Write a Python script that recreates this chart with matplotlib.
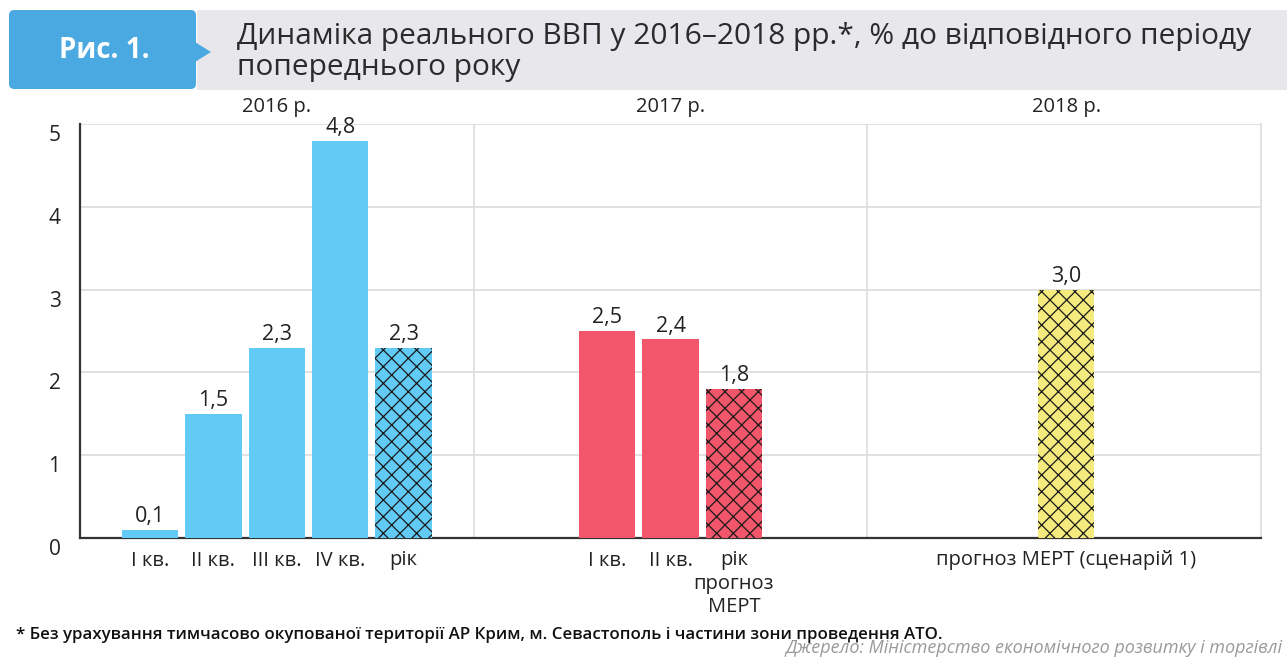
import matplotlib
matplotlib.use("Agg")
import matplotlib.pyplot as plt
from matplotlib.patches import Rectangle, Polygon, FancyBboxPatch
from matplotlib.transforms import ScaledTranslation
from matplotlib import font_manager

# ---- data ----
groups = ["2016 р.", "2017 р.", "2018 р."]
labels_2016 = ["I кв.", "II кв.", "III кв.", "IV кв.", "рік"]
values_2016 = [0.1, 1.5, 2.3, 4.8, 2.3]
hatched_2016 = [False, False, False, False, True]
labels_2017 = ["I кв.", "II кв.", "рік\nпрогноз\nМЕРТ"]
values_2017 = [2.5, 2.4, 1.8]
hatched_2017 = [False, False, True]
labels_2018 = ["прогноз МЕРТ (сценарій 1)"]
values_2018 = [3.0]
hatched_2018 = [True]
yticks = [0, 1, 2, 3, 4, 5]

title = "Динаміка реального ВВП у 2016–2018 рр.*, % до відповідного періоду\nпопереднього року"
fig_label = "Рис. 1."
footnote = "* Без урахування тимчасово окупованої території АР Крим, м. Севастополь і частини зони проведення АТО."
source = "Джерело: Міністерство економічного розвитку і торгівлі"

colors = ["#62CBF5", "#F2566A", "#F4EA7E"]

available = {f.name for f in font_manager.fontManager.ttflist}
base_font = "Open Sans" if "Open Sans" in available else "DejaVu Sans"
plt.rcParams["font.family"] = [base_font, "DejaVu Sans"]
plt.rcParams["hatch.linewidth"] = 0.9

W, H = 1287, 659
fig = plt.figure(figsize=(W / 100, H / 100), dpi=100)
fig.patch.set_facecolor("white")


def fx(x):
    return x / W


def fy(y):
    return 1 - y / H


# ---- header ----
fig.patches.append(Rectangle((fx(197), fy(90)), fx(W - 197), (90 - 10) / H,
                             transform=fig.transFigure, facecolor="#E8E8EC",
                             edgecolor="none", zorder=0))
fig.patches.append(FancyBboxPatch((fx(9), fy(89)), fx(187), 79 / H,
                                  boxstyle="round,pad=0,rounding_size=0.004",
                                  transform=fig.transFigure, facecolor="#4BA9E1",
                                  edgecolor="none", zorder=1, mutation_aspect=2))
fig.patches.append(Polygon([(fx(195), fy(42)), (fx(211), fy(52)), (fx(195), fy(62))],
                           closed=True, transform=fig.transFigure,
                           facecolor="#4BA9E1", edgecolor="none", zorder=1))
fig.text(fx(104), fy(51), fig_label, color="white", fontsize=20, fontweight="bold",
         ha="center", va="center")
fig.text(fx(237), fy(52), title, color="#2B2B2B", fontsize=21.5,
         ha="left", va="center", linespacing=1.12)

# ---- axes ----
ax = fig.add_axes([fx(80), fy(538), fx(1261 - 80), (538 - 124) / H])
ax.set_xlim(0, 3)
ax.set_ylim(0, 5)

step = 0.161
width = 0.143
all_ticks, all_labels = [], []
series = [
    (labels_2016, values_2016, hatched_2016),
    (labels_2017, values_2017, hatched_2017),
    (labels_2018, values_2018, hatched_2018),
]
centers = [0.5, 1.5, 2.505]
for gi, (labs, vals, hats) in enumerate(series):
    n = len(vals)
    xs = [centers[gi] + (i - (n - 1) / 2) * step for i in range(n)]
    for x, v, h in zip(xs, vals, hats):
        ax.bar(x, v, width=width, color=colors[gi], edgecolor="#1a1a1a" if h else "none",
               linewidth=0, hatch="xx" if h else None, zorder=3)
        ax.annotate(f"{v:.1f}".replace(".", ","), (x, v), xytext=(0, 2),
                    textcoords="offset points", ha="center", va="bottom",
                    fontsize=15.5, color="#222222", zorder=4)
    all_ticks += xs
    all_labels += labs
    ax.text(centers[gi], 1.018, groups[gi], transform=ax.get_xaxis_transform(),
            ha="center", va="bottom", fontsize=14.5, color="#222222")

ax.set_xticks(all_ticks)
ax.set_xticklabels(all_labels, fontsize=14.5, color="#222222", linespacing=1.2)
ax.tick_params(axis="x", length=0, pad=9)
ax.set_yticks(yticks)
ax.set_yticklabels([str(t) for t in yticks], fontsize=15, color="#222222")
ax.tick_params(axis="y", length=0, pad=14)
for lab in ax.get_yticklabels():
    lab.set_transform(lab.get_transform() + ScaledTranslation(0, -0.09, fig.dpi_scale_trans))

ax.grid(axis="y", color="#DCDCDC", linewidth=1.2, zorder=0)
ax.set_axisbelow(True)
for xv in [1, 2]:
    ax.axvline(xv, color="#DCDCDC", linewidth=1.2, zorder=0)
ax.spines["top"].set_visible(False)
ax.spines["right"].set_color("#DCDCDC")
ax.spines["right"].set_linewidth(1.2)
ax.spines["left"].set_color("#333333")
ax.spines["left"].set_linewidth(1.6)
ax.spines["bottom"].set_color("#333333")
ax.spines["bottom"].set_linewidth(1.6)

# ---- footnote & source ----
fig.text(fx(16), fy(635), footnote, fontsize=12.2, fontweight="semibold",
         color="#111111", ha="left", va="center")
fig.text(fx(1283), fy(657), source, fontsize=13, style="italic", color="#9A9A9A",
         ha="right", va="bottom")

fig.savefig("out.png", dpi=100, facecolor="white")
